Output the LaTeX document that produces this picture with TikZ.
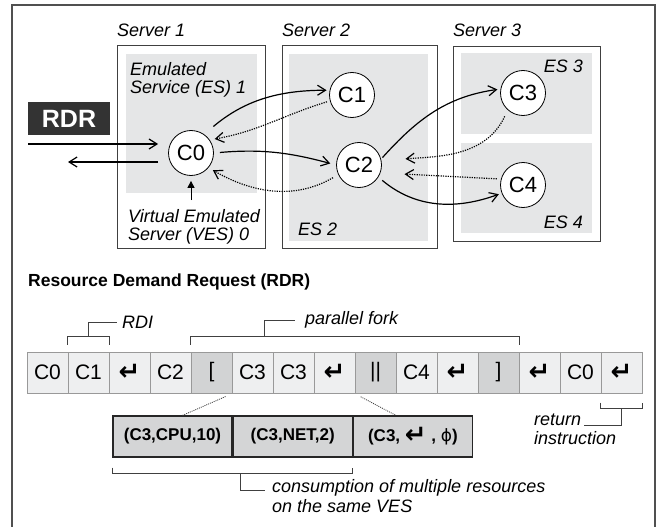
\documentclass[tikz,border=0pt]{standalone}
\usepackage{fontspec}
\setmainfont{Liberation Sans}
\newfontfamily\dejavu{DejaVu Sans}
\usetikzlibrary{arrows.meta,positioning,calc}
\definecolor{frameline}{HTML}{505050}
\definecolor{esgray}{HTML}{E5E6E7}
\definecolor{cellpale}{HTML}{EEEFF0}
\definecolor{celldark}{HTML}{D2D3D4}
\definecolor{resgray}{HTML}{D4D5D6}
\definecolor{rdrdark}{HTML}{333333}
\newcommand{\retglyph}{\raisebox{-2pt}{\dejavu\bfseries\fontsize{26}{26}\selectfont ↵}}
\tikzset{
  serverbox/.style={draw=black!75,line width=0.9pt},
  esarea/.style={fill=esgray},
  ves/.style={circle,draw=black,line width=0.8pt,fill=white,minimum size=45pt,
              inner sep=0pt,font=\fontsize{22}{22}\selectfont},
  lbl/.style={inner sep=0pt,align=left,font=\fontsize{18}{18.5}\selectfont\itshape},
  cell/.style={draw=black!40,line width=1pt,minimum width=41pt,
               minimum height=41pt,inner sep=0pt,font=\fontsize{21}{21}\selectfont},
  rescell/.style={draw=black!85,line width=1.2pt,fill=resgray,minimum width=119pt,
                  minimum height=41pt,inner sep=0pt,font=\fontsize{17}{17}\selectfont\bfseries},
  flow/.style={-{Straight Barb[length=8pt,width=10pt]},line width=1.2pt},
  back/.style={-{Straight Barb[length=8pt,width=10pt]},line width=1.2pt,
               dash pattern=on 1.2pt off 1.2pt},
  brace/.style={draw=black!75,line width=0.8pt}
}
\begin{document}
\begin{tikzpicture}[x=1pt,y=-1pt]
\useasboundingbox (0,0) rectangle (659,527);
\fill[white] (0,0) rectangle (659,527);
\draw[frameline,line width=1.4pt] (12,535) |- (655,5) -- (655,535);

% servers and emulated services
\fill[esarea] (126,54) rectangle (257,193);
\fill[esarea] (289,54) rectangle (428,241);
\fill[esarea] (461,53) rectangle (592,134);
\fill[esarea] (461,143) rectangle (592,233);
\draw[serverbox] (117,45) rectangle (265,248);
\draw[serverbox] (282,45) rectangle (437,248);
\draw[serverbox] (453,46) rectangle (600,241);

\node[lbl,anchor=base west] (srv1) at (117,37) {Server 1};
\node[lbl,anchor=base west] (srv2) at (282,37) {Server 2};
\node[lbl,anchor=base west] (srv3) at (453,37) {Server 3};
\node[lbl,anchor=north west] (es1) at (130,62) {Emulated\\Service (ES) 1};
\node[lbl,anchor=base west] (es2) at (298,235) {ES 2};
\node[lbl,anchor=base east] (es3) at (583,73) {ES 3};
\node[lbl,anchor=base east] (es4) at (583,228) {ES 4};
\node[lbl,anchor=north west] (veslbl) at (128,209) {Virtual Emulated\\Server (VES) 0};

\node[ves] (ves0) at (191,153) {C0};
\node[ves] (ves1) at (352,95) {C1};
\node[ves] (ves2) at (359,165) {C2};
\node[ves] (ves3) at (523,93) {C3};
\node[ves] (ves4) at (523,185) {C4};

% request in and out
\node[fill=rdrdark,text=white,font=\fontsize{25}{25}\selectfont\bfseries,
      minimum width=82pt,minimum height=33pt,inner sep=0pt] (rdr) at (69,118.5) {RDR};
\coordinate (rdrin) at (28,144);
\coordinate (rdrout) at (68,162);
\draw[flow,shorten >=10pt] (rdrin) -- (rdrin -| ves0.west);
\draw[flow,shorten <=10pt] (rdrout -| ves0.west) -- (rdrout);

\draw[flow,shorten <=12pt,shorten >=3pt] (ves0.55) to[out=40,in=180] (ves1.168);
\draw[back,shorten <=3pt,shorten >=5pt] (ves1.195) to[out=197,in=10] (ves0.35);
\draw[flow,shorten <=6pt,shorten >=6pt] (ves0.east) to[out=5,in=165] (ves2.west);
\draw[back,shorten <=6pt,shorten >=5pt] (ves2.205) to[out=210,in=-30] (ves0.-40);
\draw[flow,shorten <=2pt,shorten >=3pt] (ves2.15) to[out=48,in=188] (ves3.170);
\draw[back,shorten <=7pt,shorten >=24pt] (ves3.228) to[out=245,in=5] (ves2.10);
\draw[back,shorten <=4pt,shorten >=24pt] (ves4.165) to[out=177,in=-3] (ves2.-20);
\draw[flow,shorten <=5pt,shorten >=3pt] (ves2.-32) to[out=-40,in=200] (ves4.201);
\draw[-{Triangle[length=7pt,width=7pt]},line width=1pt,shorten <=9pt,shorten >=5pt]
  (ves0 |- veslbl.north) -- (ves0.south);

% the request tape
\node[inner sep=0pt,anchor=base west,font=\fontsize{17.5}{17.5}\selectfont\bfseries]
  (title) at (28,286) {Resource Demand Request (RDR)};
\foreach \t/\f [count=\i from 0] in {C0/cellpale,C1/cellpale,\retglyph/cellpale,
    C2/cellpale,[/celldark,C3/cellpale,C3/cellpale,\retglyph/cellpale,||/celldark,
    C4/cellpale,\retglyph/cellpale,]/celldark,\retglyph/cellpale,C0/cellpale,\retglyph/cellpale}
  \node[cell,fill=\f] (c\i) at (47.5+41*\i,372.5) {\t};

\node[rescell] (r0) at (172.5,436.5) {(C3,CPU,10)};
\node[rescell,right=0pt of r0] (r1) {(C3,NET,2)};
\node[rescell,right=0pt of r1] (r2) {(C3, {\fontsize{20}{20}\selectfont\retglyph}\ , {\dejavu\mdseries ϕ})};
\draw[brace,dash pattern=on 1pt off 1pt,shorten >=7pt] ([xshift=10pt]r0.north) -- (c4.south east);
\draw[brace,dash pattern=on 1pt off 1pt,shorten <=7pt] (c8.south west) -- ([xshift=-17pt]r2.north);

% brackets
\node[lbl,anchor=west] (rdi) at (122,322) {RDI};
\node[lbl,anchor=west] (fork) at (305,320) {parallel fork};
\node[lbl,anchor=north west,font=\fontsize{18}{20}\selectfont\itshape] (cons) at (272,479)
  {consumption of multiple resources\\on the same VES};
\node[lbl,anchor=north west] (ret) at (534,414) {return\\instruction};

\draw[brace] ([yshift=7pt]c1.north west) |- ([yshift=15pt]c1.north east) -- ([yshift=7pt]c1.north east);
\draw[brace,shorten >=5pt] ([yshift=15pt]c1.north) |- (rdi.west);
\draw[brace] ([yshift=7pt]c4.north west) |- ([yshift=15pt]c11.north east) -- ([yshift=7pt]c11.north east);
\draw[brace,shorten >=10pt] ([xshift=74pt,yshift=15pt]c4.north west) |- (fork.west);
\draw[brace] ([yshift=-10pt]r0.south west) |- ([yshift=-16pt]r1.south east) -- ([yshift=-10pt]r1.south east);
\draw[brace,shorten >=7pt] ([xshift=8pt,yshift=-16pt]r1.south west) |- ([yshift=-11pt]cons.north west);
\draw[brace] ([yshift=-9pt]c14.south west) |- ([yshift=-15pt]c14.south east) -- ([yshift=-9pt]c14.south east);
\draw[brace] ([yshift=-15pt]c14.south) |- ([xshift=50pt,yshift=-11pt]ret.north west);
\end{tikzpicture}
\end{document}
